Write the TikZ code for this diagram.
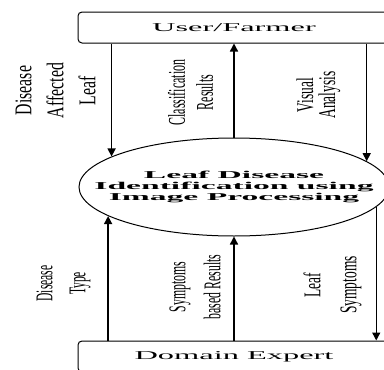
\documentclass[tikz,border=0pt]{standalone}
\usepackage{fontspec}
\usetikzlibrary{arrows.meta,shapes.geometric}
\newfontfamily\boxfont[FakeStretch=2.7]{Liberation Serif}
\newfontfamily\procfont[FakeStretch=3.2]{Liberation Serif}
\newfontfamily\flowfont{Liberation Serif}
\tikzset{
	entity/.style={draw, line width=1pt, rounded corners=4pt, minimum width=312pt, minimum height=31pt, inner sep=0pt, font=\boxfont\fontsize{12}{14}\selectfont},
	process/.style={draw, ellipse, line width=1pt, minimum width=310pt, minimum height=98pt, inner xsep=-40pt, inner ysep=0pt, align=center, font=\procfont\bfseries\fontsize{10.5}{11}\selectfont},
	flow/.style={line width=1.4pt, -{Triangle[length=8pt,width=8pt]}},
	flowlabel/.style 2 args={rotate=90, align=center, inner sep=0pt, font=\flowfont\addfontfeatures{FakeStretch=#2}\fontsize{24}{#1}\selectfont}
}
\begin{document}
\begin{tikzpicture}[x=1pt, y=-1pt]

		\clip (0,0) rectangle (384,370);

		\node [entity] (user) at (234,27.5) {User/Farmer};
		\node [process] (proc) at (234,187) {Leaf Disease\\Identification using\\Image Processing};
		\node [entity] (expert) at (234,356.5) {Domain Expert};

		% user <-> process
		\draw [flow] (user.south -| proc.166.7) -- (proc.166.7);
		\draw [flow] (proc.north) -- (user.south -| proc.north);
		\draw [flow] (user.south -| proc.11) -- (proc.11);

		% expert <-> process
		\draw [flow] (expert.north -| proc.193.1) -- (proc.193.1);
		\draw [flow] (expert.north -| proc.south) -- (proc.south);
		\draw [flow] (proc.352.5) -- (expert.north -| proc.352.5);

		\node [flowlabel={32}{0.66}] (l1) at (55.5,90.5) {Disease\\Affected\\Leaf};
		\node [flowlabel={28}{0.5}] (l2) at (190.5,92.5) {Classification\\Results};
		\node [flowlabel={22}{0.56}] (l3) at (318.5,95) {Visual\\Analysis};
		\node [flowlabel={33}{0.48}] (l4) at (63.5,283.5) {Disease\\Type};
		\node [flowlabel={35}{0.49}] (l5) at (195,287) {Symptoms\\based Results};
		\node [flowlabel={36}{0.56}] (l6) at (332.5,285) {Leaf\\Symptoms};

\end{tikzpicture}
\end{document}
